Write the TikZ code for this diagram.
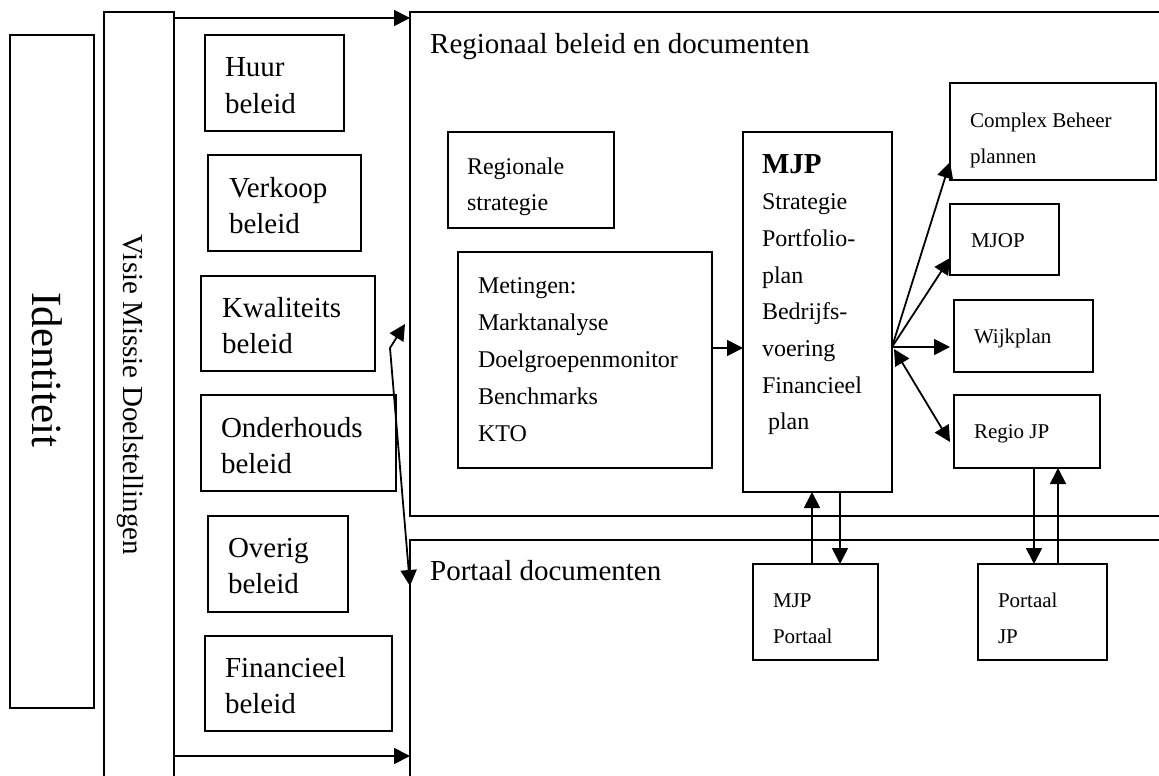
\documentclass[tikz,border=0pt]{standalone}
\usepackage{fontspec}
\setmainfont{Liberation Serif}
\usetikzlibrary{arrows.meta,calc}
% strut that fixes the height of a first line at 0.75em
\newcommand\firstline{\vrule height 0.75em width 0pt\relax}
\begin{document}
\begin{tikzpicture}[x=1pt,y=-1pt,
  >={Triangle[length=16pt,width=16pt]},
  frame/.style={draw, line width=2pt, inner sep=0pt, outer sep=0pt, anchor=north west},
  words/.style={anchor=north west, inner sep=0pt, outer sep=0pt, align=left},
  bigtxt/.style={words, font=\fontsize{29}{36}\selectfont},
  midtxt/.style={words, font=\fontsize{24}{36.7}\selectfont},
  smalltxt/.style={words, font=\fontsize{21}{36}\selectfont},
  conn/.style={line width=1.8pt, ->},
  conn2/.style={line width=1.8pt, <->},
]
\useasboundingbox (0,0) rectangle (1159,776);
\fill[white] (0,0) rectangle (1159,776);
\clip (0,0) rectangle (1159,776);

% outer columns and areas
\node[frame, minimum width=84, minimum height=673] (ident) at (10,35) {};
\node[rotate=-90, anchor=base, inner sep=0pt, font=\fontsize{43}{50}\selectfont] (identtxt) at (32,370) {Identiteit};
\node[frame, minimum width=70, minimum height=790] (visie) at (104,12) {};
\node[rotate=-90, anchor=base, inner sep=0pt, font=\fontsize{29}{36}\selectfont] (visietxt) at (123,395) {Visie Missie Doelstellingen};
\node[frame, minimum width=770, minimum height=504] (reg) at (410,12) {};
\node[anchor=base west, inner sep=0pt, font=\fontsize{29}{36}\selectfont] (regtxt) at (430,53) {Regionaal beleid en documenten};
\node[frame, minimum width=770, minimum height=260] (port) at (410,540) {};
\node[anchor=base west, inner sep=0pt, font=\fontsize{29}{36}\selectfont] (porttxt) at (430,580) {Portaal documenten};

% policy boxes
\node[frame, minimum width=139, minimum height=96] (huur) at (205,35) {};
\node[bigtxt] (huurtxt) at (225,55.25) {\firstline Huur\\beleid};
\node[frame, minimum width=153, minimum height=96] (verkoop) at (208,155) {};
\node[bigtxt] (verkooptxt) at (229,175.25) {\firstline Verkoop\\beleid};
\node[frame, minimum width=174, minimum height=95] (kwal) at (201,276) {};
\node[bigtxt] (kwaltxt) at (222,295.25) {\firstline Kwaliteits\\beleid};
\node[frame, minimum width=195, minimum height=96] (onder) at (201,395) {};
\node[bigtxt] (ondertxt) at (221,415.25) {\firstline Onderhouds\\beleid};
\node[frame, minimum width=140, minimum height=96] (overig) at (208,516) {};
\node[bigtxt] (overigtxt) at (228,535.25) {\firstline Overig\\beleid};
\node[frame, minimum width=187, minimum height=95] (fin) at (205,636) {};
\node[bigtxt] (fintxt) at (225,655.25) {\firstline Financieel\\beleid};

% regional documents
\node[frame, minimum width=166, minimum height=96] (strat) at (448,132) {};
\node[midtxt, font=\fontsize{24}{36}\selectfont] (strattxt) at (467,156) {\firstline Regionale\\strategie};
\node[frame, minimum width=254, minimum height=216] (met) at (458,252) {};
\node[midtxt, font=\fontsize{24}{37}\selectfont] (mettxt) at (478,275) {\firstline Metingen:\\Marktanalyse\\Doelgroepenmonitor\\Benchmarks\\KTO};
\node[frame, minimum width=149, minimum height=360] (mjp) at (743,132) {};
\node[midtxt] (mjptxt) at (762,151.25) {{\fontsize{29}{36.7}\selectfont\bfseries\firstline MJP}\\Strategie\\Portfolio-\\plan\\Bedrijfs-\\voering\\Financieel\\\hspace{6pt}plan};
\node[frame, minimum width=206, minimum height=97] (complex) at (950,83) {};
\node[smalltxt] (complextxt) at (970,111.25) {\firstline Complex Beheer\\plannen};
\node[frame, minimum width=109, minimum height=71] (mjop) at (950,204) {};
\node[smalltxt] (mjoptxt) at (971,231.25) {\firstline MJOP};
\node[frame, minimum width=139, minimum height=72] (wijk) at (954,300) {};
\node[smalltxt] (wijktxt) at (974,327.25) {\firstline Wijkplan};
\node[frame, minimum width=146, minimum height=73] (regiojp) at (954,395) {};
\node[smalltxt] (regiojptxt) at (974,422.25) {\firstline Regio JP};

% portal documents
\node[frame, minimum width=125, minimum height=96] (mjpport) at (753,564) {};
\node[smalltxt] (mjpporttxt) at (773,591.25) {\firstline MJP\\Portaal};
\node[frame, minimum width=129, minimum height=96] (portjp) at (978,564) {};
\node[smalltxt] (portjptxt) at (998,591.25) {\firstline Portaal\\JP};

% connectors
\draw[conn] (visie.east |- 0,18) -- (reg.west |- 0,18);
\draw[conn] (visie.east |- 0,756) -- (port.west |- 0,756);
\coordinate (kink) at (390,348);
\draw[conn2] ($(reg.west |- 0,324)+(-5,0)$) -- (kink) -- (port.west |- 0,586);
\draw[conn] (met.east |- 0,348) -- (mjp.west |- 0,348);
\draw[conn] (mjp.east |- 0,347) -- (complex.west |- 0,162);
\draw[conn] (mjp.east |- 0,347) -- (mjop.west |- 0,258);
\draw[conn] (mjp.east |- 0,347) -- ($(wijk.west |- 0,347)+(-4,0)$);
\draw[conn2] ($(mjp.east |- 0,349)+(2,0)$) -- ($(regiojp.west |- 0,442)+(-4,0)$);
\draw[conn] (mjpport.north -| 812,0) -- (mjp.south -| 812,0);
\draw[conn] (mjp.south -| 840,0) -- (mjpport.north -| 840,0);
\draw[conn] (regiojp.south -| 1034,0) -- (portjp.north -| 1034,0);
\draw[conn] (portjp.north -| 1058,0) -- (regiojp.south -| 1058,0);
\end{tikzpicture}
\end{document}
